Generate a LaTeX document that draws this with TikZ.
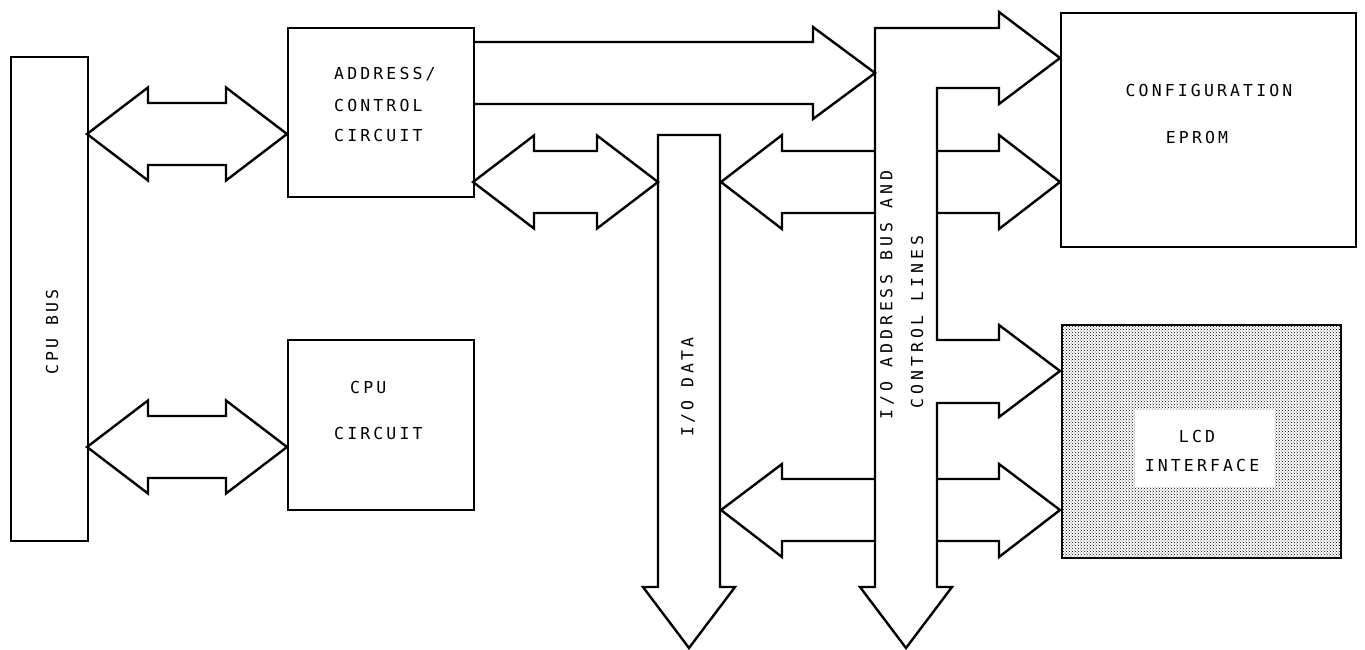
\documentclass[tikz,border=0pt]{standalone}
\usepackage{fontspec}
\usetikzlibrary{patterns}
\newfontfamily\plotfont[LetterSpace=19]{DejaVu Sans Mono}
\newfontfamily\plotfontwide[LetterSpace=24]{DejaVu Sans Mono}

\tikzset{
  wire/.style={line width=2.4pt, line join=miter, draw=black},
  blockbox/.style={wire, rectangle, inner sep=0pt, anchor=north west},
  lbl/.style={font=\plotfont\fontsize{16.5}{20}\selectfont, inner sep=0pt, text=black},
  widelbl/.style={font=\plotfontwide\fontsize{16.5}{20}\selectfont, inner sep=0pt, text=black},
}

% double-headed bus arrow: #1 left x, #2 right x, #3 centre y
\newcommand\twowayarrow[3]{%
  \draw[wire] (#1,#3) -- ++(61,-46.5) -- ++(0,15.5) -- (#2-61,#3-31)
    -- ++(0,-15.5) -- (#2,#3) -- ++(-61,46.5) -- ++(0,-15.5)
    -- (#1+61,#3+31) -- ++(0,15.5) -- cycle;}

\begin{document}
\begin{tikzpicture}[x=1pt,y=-1pt]
\useasboundingbox (0,0) rectangle (1365,649);

% ---- blocks ----
\node[blockbox, minimum width=77pt,  minimum height=484pt] (cpubus) at (10,56) {};
\node[blockbox, minimum width=186pt, minimum height=169pt] (addr)   at (287,27) {};
\node[blockbox, minimum width=186pt, minimum height=170pt] (cpu)    at (287,339) {};
\node[blockbox, minimum width=295pt, minimum height=234pt] (eprom)  at (1060,12) {};
\node[blockbox, minimum width=279pt, minimum height=233pt,
      pattern=crosshatch dots, pattern color=black] (lcd) at (1061,324) {};
\fill[white] (1135,410) rectangle (1275,487);

% ---- I/O data bus ----
\draw[wire] (658,135) coordinate (iodtop) -- (720,135) -- (720,587) -- (735,587)
  -- (689,648) coordinate (iodtip) -- (643,587) -- (658,587) -- cycle;

% ---- I/O address bus with its first branch to the EPROM ----
\draw[wire] (875,28) -- (999,28) -- (999,12) -- (1060,58) -- (999,104)
  -- (999,88) -- (937,88) -- (937,340) -- (999,340) -- (999,325)
  -- (1060,371) -- (999,417) -- (999,403) -- (937,403) -- (937,587)
  -- (952,587) -- (906,648) coordinate (iobtip) -- (860,587) -- (875,587) -- cycle;

% second EPROM branch
\draw[wire] (937,151) -- (999,151) -- (999,135) -- (1060,182) -- (999,229)
  -- (999,213) -- (937,213);
% second LCD branch
\draw[wire] (937,479) -- (999,479) -- (999,464) -- (1060,510) -- (999,557)
  -- (999,541) -- (937,541);

% branches from the address bus onto the data bus
\draw[wire] (875,151) -- (782,151) -- (782,135) -- (721,182) -- (782,229)
  -- (782,213) -- (875,213);
\draw[wire] (875,479) -- (782,479) -- (782,464) -- (721,510) -- (782,557)
  -- (782,541) -- (875,541);

% address/control circuit onto the I/O address bus
\draw[wire] (473,42) -- (813,42) -- (813,27) -- (875,73) -- (813,119)
  -- (813,104) -- (473,104);

% bidirectional links
\twowayarrow{87}{287}{134}
\twowayarrow{87}{287}{447}
\twowayarrow{473}{658}{182}

% ---- labels ----
\node[lbl, rotate=90] (tcpubus) at (52,332) {CPU BUS};
\node[lbl, anchor=west] (taddr1) at (334,74)  {ADDRESS/};
\node[lbl, anchor=west] (taddr2) at (334,105) {CONTROL};
\node[lbl, anchor=west] (taddr3) at (334,135) {CIRCUIT};
\node[lbl, anchor=west] (tcpu1)  at (350,387) {CPU};
\node[lbl, anchor=west] (tcpu2)  at (334,433) {CIRCUIT};
\node[lbl] (tconf)  at (1209,90)  {CONFIGURATION};
\node[lbl] (teprom) at (1197,137) {EPROM};
\node[lbl] (tlcd1)  at (1197,436) {LCD};
\node[lbl] (tlcd2)  at (1202,465) {INTERFACE};
\node[lbl, rotate=90] (tiod)  at (688,387) {I/O DATA};
\node[widelbl, rotate=90] (tiob1) at (887,295) {I/O ADDRESS BUS AND};
\node[widelbl, rotate=90] (tiob2) at (917,322) {CONTROL LINES};
\end{tikzpicture}
\end{document}
